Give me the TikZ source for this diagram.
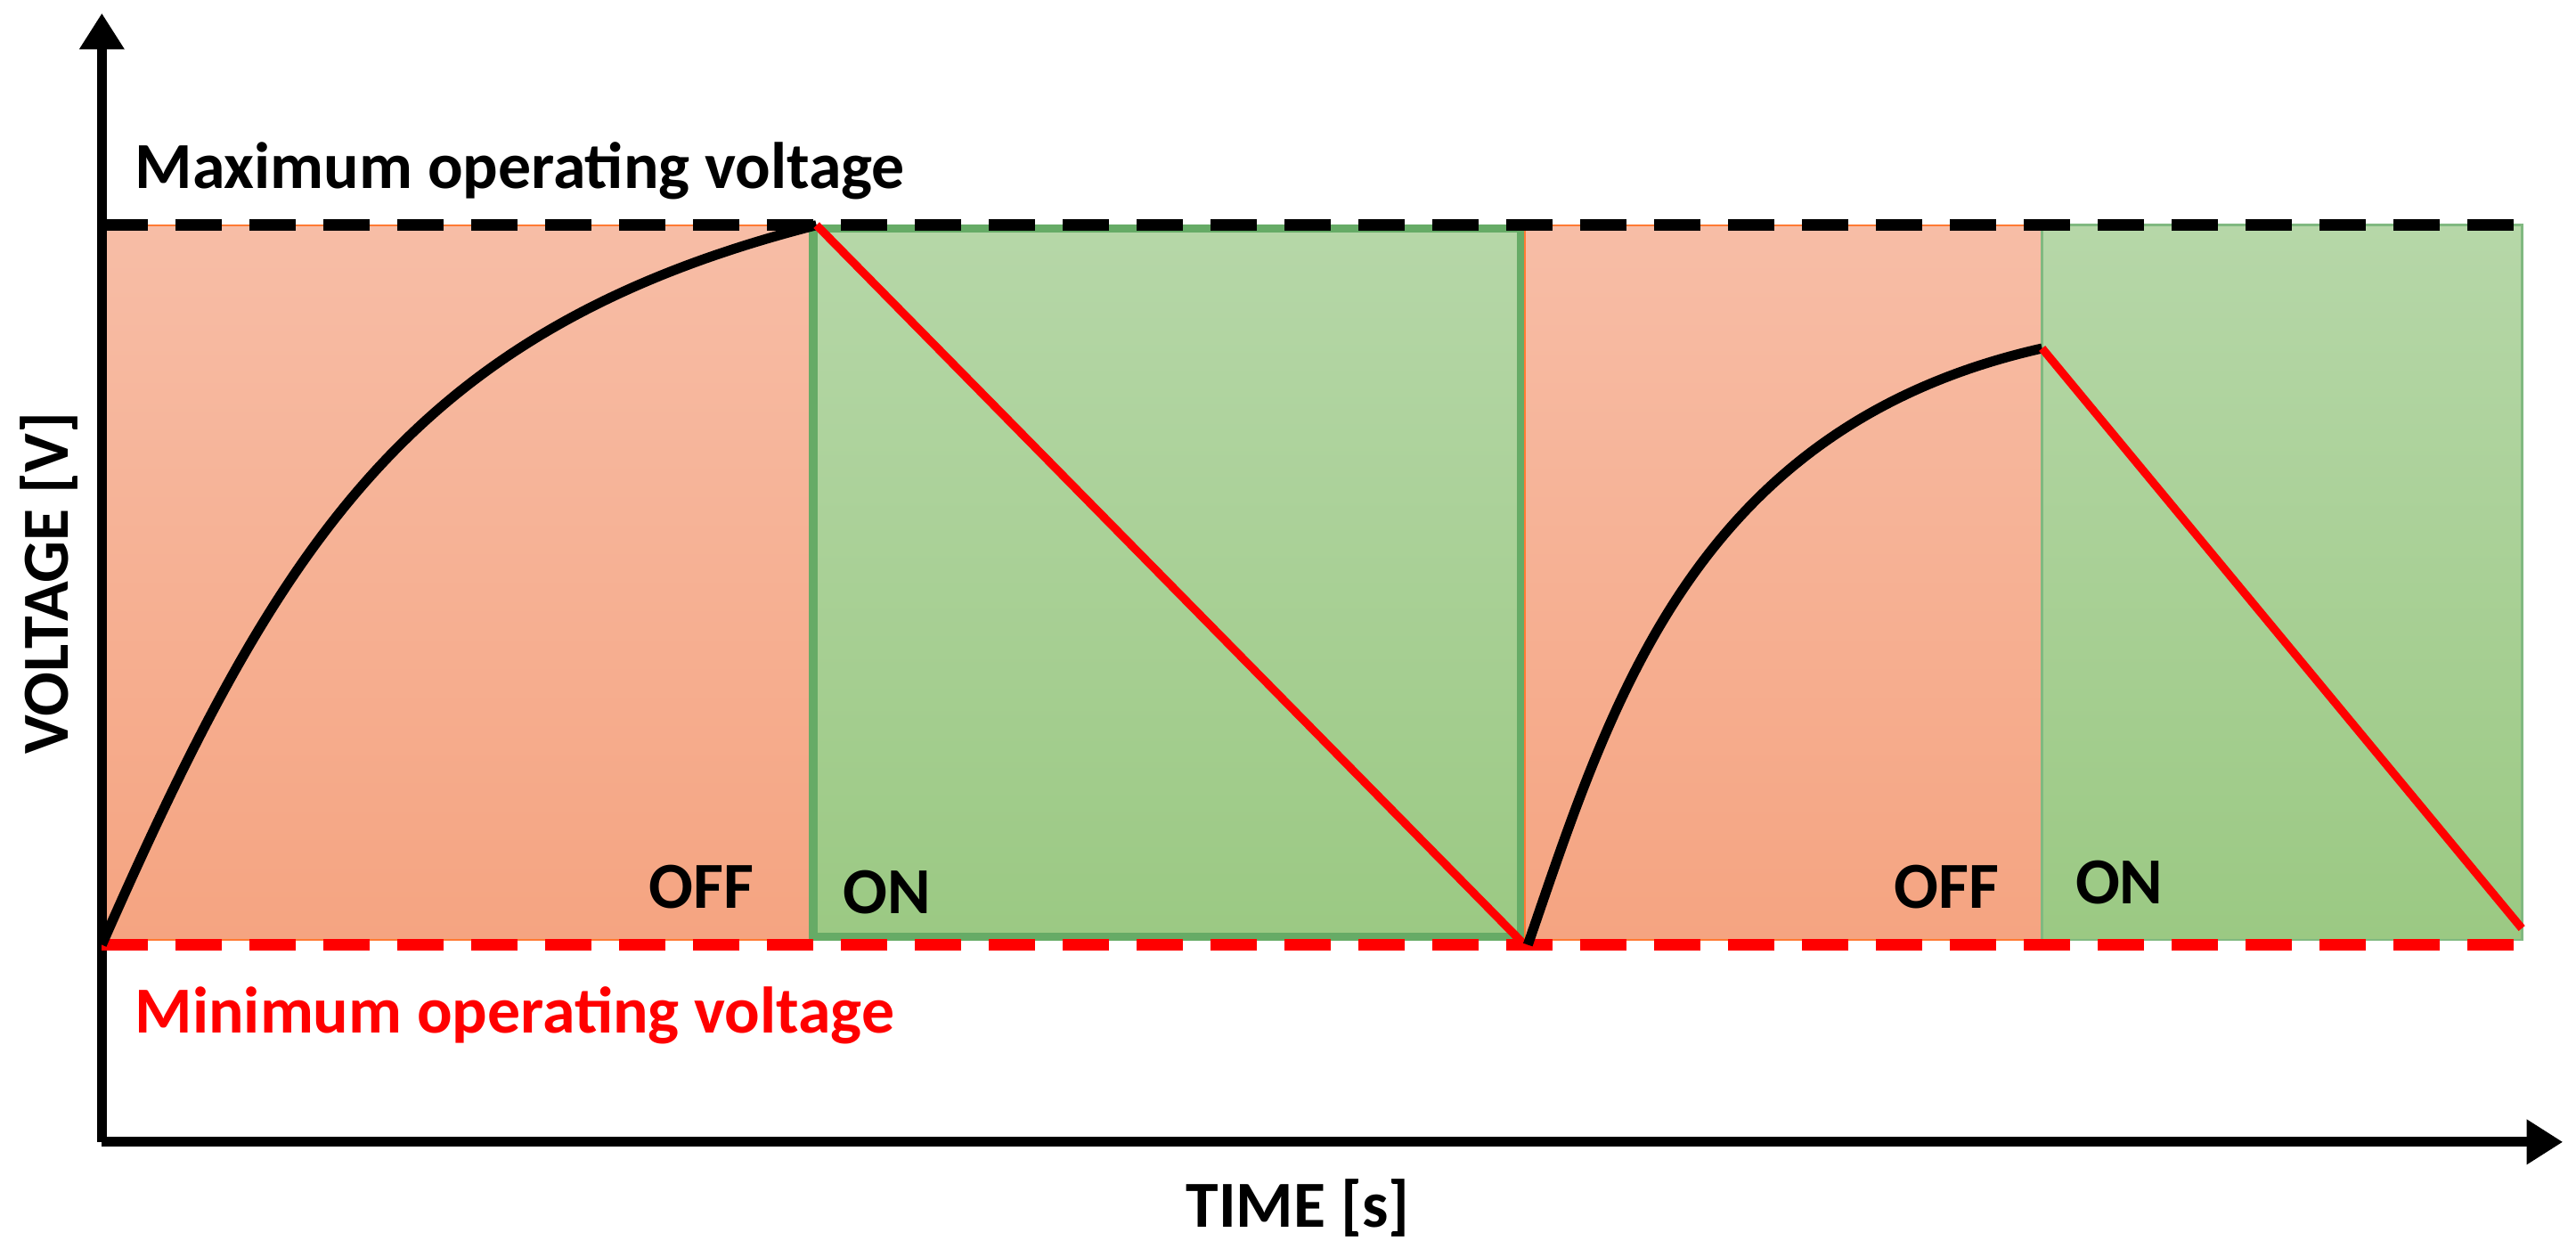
\documentclass[tikz,border=0pt]{standalone}
\usepackage{fontspec}
\setmainfont{Carlito}
\usetikzlibrary{arrows.meta}
\begin{document}
\begin{tikzpicture}[x=1pt,y=-1pt,
  lbl/.style={font=\bfseries\fontsize{40}{46}\selectfont,inner sep=0pt},
  curve/.style={line width=6pt,black},
  fall/.style={line width=5pt,red},
  lim/.style={line width=7pt,dash pattern=on 28pt off 17pt}]
\useasboundingbox (0,0) rectangle (1568,760);
\definecolor{offt}{HTML}{F7BDA6}\definecolor{offb}{HTML}{F5A481}
\definecolor{ont}{HTML}{B6D7A8}\definecolor{onb}{HTML}{9BC983}
\shade[top color=offt,bottom color=offb] (62,137) rectangle (493,572);
\draw[orange!70!red!80!white,line width=1pt] (62,137) rectangle (493,572);
\shade[top color=ont,bottom color=onb] (493,137) rectangle (928,572);
\draw[green!45!black!60!white,line width=5pt] (495,139) rectangle (926,570);
\shade[top color=offt,bottom color=offb] (928,137) rectangle (1243,572);
\draw[orange!70!red!80!white,line width=1pt] (928,137) rectangle (1243,572);
\shade[top color=ont,bottom color=onb] (1243,137) rectangle (1535,572);
\draw[green!45!black!50!white,line width=1.5pt] (1243,137) rectangle (1535,572);
\coordinate (o) at (62,695);
\coordinate (ytop) at (62,8);
\coordinate (xend) at (1560,695);
\draw[line width=6pt,-{Triangle[length=22pt,width=26pt]}] (o) -- (ytop);
\draw[line width=6pt,-{Triangle[length=22pt,width=26pt]}] (o) -- (xend);
\coordinate (maxl) at (62,137); \coordinate (maxr) at (1535,137);
\coordinate (minl) at (62,575); \coordinate (minr) at (1535,575);
\draw[lim,black] (maxl) -- (maxr);
\draw[lim,red] (minl) -- (minr);
\coordinate (a0) at (62,575); \coordinate (a1) at (497,137);
\coordinate (a2) at (928,575); \coordinate (b0) at (930,575);
\coordinate (b1) at (1243,212); \coordinate (b2) at (1535,565);
\draw[curve] (a0) .. controls (170,330) and (250,200) .. (a1);
\draw[fall] (a1) -- (a2);
\draw[curve] (b0) .. controls (980,430) and (1030,260) .. (b1);
\draw[fall] (b1) -- (b2);
\node[lbl,anchor=west] (max) at (82,104) {Maximum operating voltage};
\node[lbl,anchor=west,text=red] (min) at (82,618) {Minimum operating voltage};
\node[lbl] (off1) at (427,540) {OFF};
\node[lbl] (on1) at (540,543) {ON};
\node[lbl] (off2) at (1185,540) {OFF};
\node[lbl] (on2) at (1290,537) {ON};
\node[lbl,rotate=90] (vl) at (30,355) {VOLTAGE [V]};
\node[lbl] (tl) at (790,735) {TIME [s]};
\end{tikzpicture}
\end{document}
